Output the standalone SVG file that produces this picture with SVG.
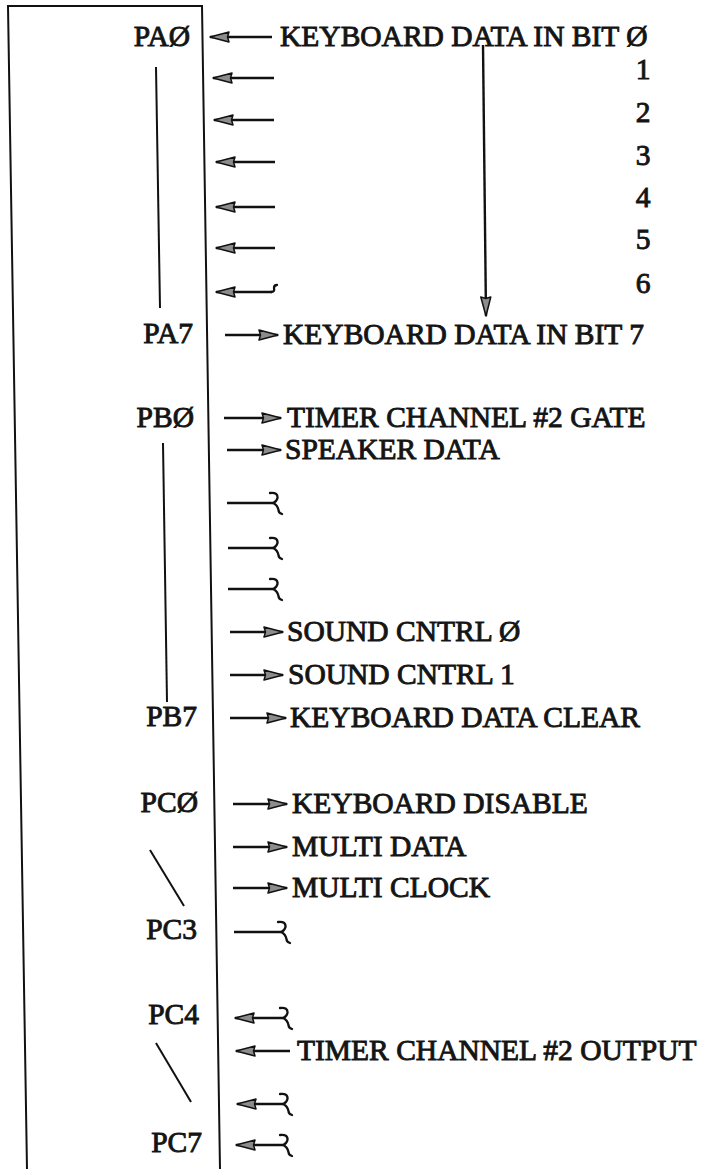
<svg xmlns="http://www.w3.org/2000/svg" width="708" height="1169" viewBox="0 0 708 1169">
<style>
  text { font-family: "Liberation Serif", "Times New Roman", serif; font-weight: normal; font-size: 29.5px; fill: #141414; stroke: #141414; stroke-width: 0.9; }
  .pin { text-anchor: end; }
  .num { text-anchor: middle; }
  .ln { stroke: #111; stroke-width: 2; fill: none; }
  .box { stroke: #111; stroke-width: 2; fill: none; }
  .in { stroke: #111; stroke-width: 2.4; fill: none; marker-end: url(#ah); }
  .out { stroke: #111; stroke-width: 2.4; fill: none; marker-end: url(#ah); }
  .plain { stroke: #111; stroke-width: 2.4; fill: none; }
  .curl { stroke: #111; stroke-width: 2.3; fill: none; stroke-linecap: round; }
</style>
<defs>
  <marker id="ah" viewBox="0 0 21 12" refX="20" refY="6" markerWidth="21" markerHeight="12" orient="auto" markerUnits="userSpaceOnUse">
    <path d="M1,1 L20,6 L1,11 L2.5,6 z" fill="#8c8c8c" stroke="#111" stroke-width="1.5" stroke-linejoin="round"/>
  </marker>
  <path id="cu" d="M-5,-10 Q3,-11 2.5,-5 Q1.5,-1 -2,0 Q2.5,2 3.5,7 Q3.5,10 7,11" class="curl"/>
</defs>
<rect width="708" height="1169" fill="#ffffff"/>

<g id="chip">
  <path class="box" d="M27,1169 L8,6 L202,6 L220,1169"/>
</g>

<g id="pin-labels">
  <g id="PA0"><text class="pin" x="190" y="46">PAØ</text></g>
  <g id="PA7"><text class="pin" x="193" y="343">PA7</text></g>
  <g id="PB0"><text class="pin" x="194" y="427">PBØ</text></g>
  <g id="PB7"><text class="pin" x="197" y="726">PB7</text></g>
  <g id="PC0"><text class="pin" x="198" y="812">PCØ</text></g>
  <g id="PC3"><text class="pin" x="197" y="939">PC3</text></g>
  <g id="PC4"><text class="pin" x="199" y="1024">PC4</text></g>
  <g id="PC7"><text class="pin" x="202" y="1152">PC7</text></g>
</g>

<g id="range-lines">
  <line class="ln" x1="156" y1="67" x2="160" y2="308"/>
  <line class="ln" x1="163" y1="443" x2="167" y2="702"/>
  <line class="ln" x1="150" y1="850" x2="184" y2="906"/>
  <line class="ln" x1="156" y1="1043" x2="191" y2="1102"/>
</g>

<g id="signal-labels">
  <g id="kbd-in0"><text x="280" y="46">KEYBOARD DATA IN BIT Ø</text></g>
  <g id="bits">
    <text class="num" x="643" y="79">1</text>
    <text class="num" x="643" y="122">2</text>
    <text class="num" x="643" y="165">3</text>
    <text class="num" x="643" y="207">4</text>
    <text class="num" x="643" y="249">5</text>
    <text class="num" x="643" y="293">6</text>
  </g>
  <g id="kbd-in7"><text x="283" y="344">KEYBOARD DATA IN BIT 7</text></g>
  <g id="timer-gate"><text x="287" y="427">TIMER CHANNEL #2 GATE</text></g>
  <g id="speaker"><text x="285" y="459">SPEAKER DATA</text></g>
  <g id="snd0"><text x="287" y="641">SOUND CNTRL Ø</text></g>
  <g id="snd1"><text x="288" y="684">SOUND CNTRL 1</text></g>
  <g id="kbd-clear"><text x="290" y="727">KEYBOARD DATA CLEAR</text></g>
  <g id="kbd-disable"><text x="292" y="813">KEYBOARD DISABLE</text></g>
  <g id="multi-data"><text x="292" y="856">MULTI DATA</text></g>
  <g id="multi-clock"><text x="292" y="897">MULTI CLOCK</text></g>
  <g id="timer-out"><text x="297" y="1060">TIMER CHANNEL #2 OUTPUT</text></g>
</g>

<g id="connectors">
  <line class="in" x1="272" y1="37" x2="210" y2="37"/>
  <line class="in" x1="274" y1="78" x2="213" y2="78"/>
  <line class="in" x1="274" y1="120" x2="214" y2="120"/>
  <line class="in" x1="275" y1="162" x2="216" y2="162"/>
  <line class="in" x1="275" y1="207" x2="216" y2="207"/>
  <line class="in" x1="275" y1="248" x2="216" y2="248"/>
  <line class="in" x1="272" y1="292" x2="216" y2="292"/>
  <path class="curl" d="M271,292 Q275,292 274,288 Q274,285 277,285"/>
  <line class="out" x1="225" y1="335" x2="278" y2="335"/>
  <line class="out" x1="483" y1="45" x2="486" y2="316"/>
  <line class="out" x1="224" y1="418" x2="281" y2="418"/>
  <line class="out" x1="227" y1="450" x2="281" y2="450"/>
  <line class="plain" x1="227" y1="503" x2="273" y2="503"/>
  <use href="#cu" x="275" y="503"/>
  <line class="plain" x1="228" y1="548" x2="273" y2="548"/>
  <use href="#cu" x="275" y="548"/>
  <line class="plain" x1="228" y1="589" x2="273" y2="589"/>
  <use href="#cu" x="275" y="589"/>
  <line class="out" x1="230" y1="632" x2="283" y2="632"/>
  <line class="out" x1="230" y1="675" x2="283" y2="675"/>
  <line class="out" x1="230" y1="718" x2="286" y2="718"/>
  <line class="out" x1="233" y1="804" x2="287" y2="804"/>
  <line class="out" x1="233" y1="847" x2="287" y2="847"/>
  <line class="out" x1="233" y1="888" x2="287" y2="888"/>
  <line class="plain" x1="234" y1="932" x2="281" y2="932"/>
  <use href="#cu" x="283" y="932"/>
  <line class="in" x1="283" y1="1018" x2="235" y2="1018"/>
  <use href="#cu" x="285" y="1018"/>
  <line class="in" x1="290" y1="1051" x2="236" y2="1051"/>
  <line class="in" x1="283" y1="1104" x2="237" y2="1104"/>
  <use href="#cu" x="285" y="1104"/>
  <line class="in" x1="283" y1="1145" x2="236" y2="1145"/>
  <use href="#cu" x="285" y="1145"/>
</g>
</svg>
